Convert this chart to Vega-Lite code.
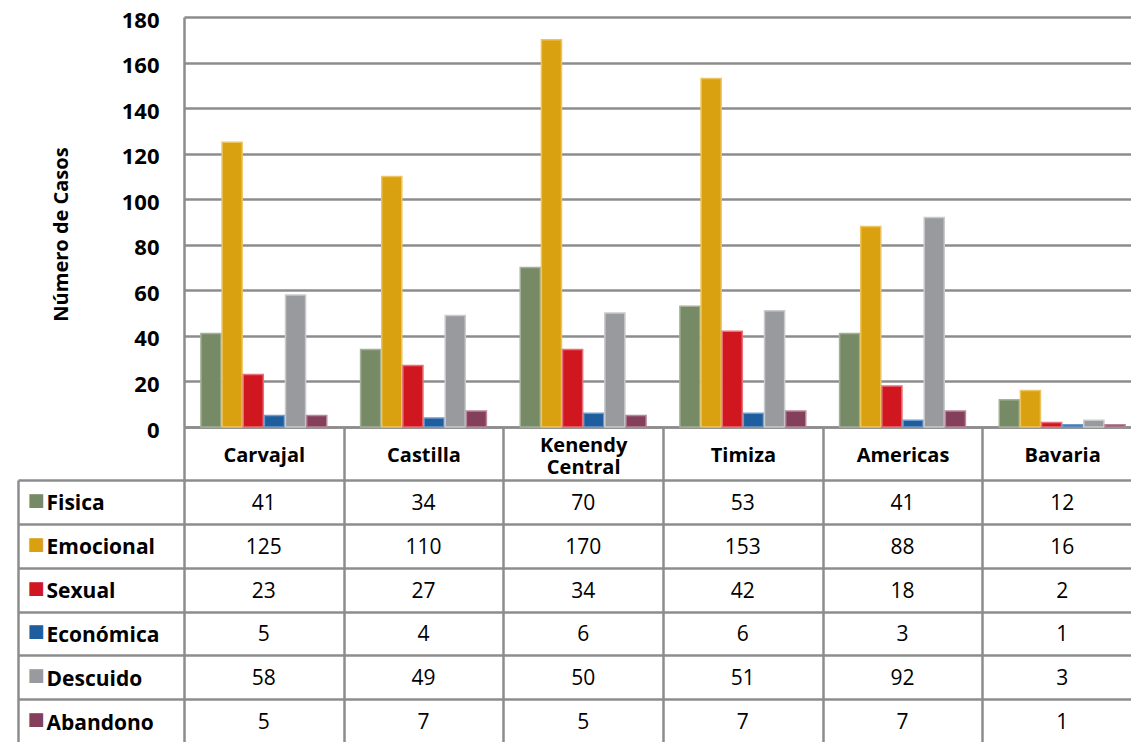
{
  "$schema": "https://vega.github.io/schema/vega-lite/v6.json",
  "padding": {"left": 16, "top": 9, "right": 0, "bottom": 0},
  "background": "white",
  "config": {"view": {"stroke": null}, "font": "Open Sans"},
  "datasets": {
    "casos": [
      {"zona": "Carvajal", "serie": "Fisica", "casos": 41},
      {"zona": "Castilla", "serie": "Fisica", "casos": 34},
      {"zona": "Kenendy Central", "serie": "Fisica", "casos": 70},
      {"zona": "Timiza", "serie": "Fisica", "casos": 53},
      {"zona": "Americas", "serie": "Fisica", "casos": 41},
      {"zona": "Bavaria", "serie": "Fisica", "casos": 12},
      {"zona": "Carvajal", "serie": "Emocional", "casos": 125},
      {"zona": "Castilla", "serie": "Emocional", "casos": 110},
      {"zona": "Kenendy Central", "serie": "Emocional", "casos": 170},
      {"zona": "Timiza", "serie": "Emocional", "casos": 153},
      {"zona": "Americas", "serie": "Emocional", "casos": 88},
      {"zona": "Bavaria", "serie": "Emocional", "casos": 16},
      {"zona": "Carvajal", "serie": "Sexual", "casos": 23},
      {"zona": "Castilla", "serie": "Sexual", "casos": 27},
      {"zona": "Kenendy Central", "serie": "Sexual", "casos": 34},
      {"zona": "Timiza", "serie": "Sexual", "casos": 42},
      {"zona": "Americas", "serie": "Sexual", "casos": 18},
      {"zona": "Bavaria", "serie": "Sexual", "casos": 2},
      {"zona": "Carvajal", "serie": "Económica", "casos": 5},
      {"zona": "Castilla", "serie": "Económica", "casos": 4},
      {"zona": "Kenendy Central", "serie": "Económica", "casos": 6},
      {"zona": "Timiza", "serie": "Económica", "casos": 6},
      {"zona": "Americas", "serie": "Económica", "casos": 3},
      {"zona": "Bavaria", "serie": "Económica", "casos": 1},
      {"zona": "Carvajal", "serie": "Descuido", "casos": 58},
      {"zona": "Castilla", "serie": "Descuido", "casos": 49},
      {"zona": "Kenendy Central", "serie": "Descuido", "casos": 50},
      {"zona": "Timiza", "serie": "Descuido", "casos": 51},
      {"zona": "Americas", "serie": "Descuido", "casos": 92},
      {"zona": "Bavaria", "serie": "Descuido", "casos": 3},
      {"zona": "Carvajal", "serie": "Abandono", "casos": 5},
      {"zona": "Castilla", "serie": "Abandono", "casos": 7},
      {"zona": "Kenendy Central", "serie": "Abandono", "casos": 5},
      {"zona": "Timiza", "serie": "Abandono", "casos": 7},
      {"zona": "Americas", "serie": "Abandono", "casos": 7},
      {"zona": "Bavaria", "serie": "Abandono", "casos": 1}
    ]
  },
  "data": {"name": "casos"},
  "spacing": 53,
  "bounds": "flush",
  "vconcat": [
    {
      "width": 958,
      "height": 410,
      "mark": {"type": "bar", "strokeWidth": 1.5},
      "encoding": {
        "x": {
          "field": "zona", "type": "nominal",
          "sort": ["Carvajal", "Castilla", "Kenendy Central", "Timiza", "Americas", "Bavaria"],
          "scale": {"paddingInner": 0, "paddingOuter": 0},
          "axis": {
            "orient": "bottom", "title": null, "tickBand": "extent",
            "tickSize": 53, "tickColor": "#8c8c8c", "tickWidth": 2.5,
            "domainColor": "#8c8c8c", "domainWidth": 2.5,
            "labelFont": "Open Sans", "labelFontSize": 20, "labelFontWeight": "bold",
            "labelColor": "black", "labelAngle": 0, "labelBaseline": "middle",
            "labelPadding": {"condition": {"test": "datum.value == 'Kenendy Central'", "value": -35}, "value": -25},
            "labelLineHeight": 22,
            "labelExpr": "datum.value == 'Kenendy Central' ? ['Kenendy', 'Central'] : datum.value"
          }
        },
        "xOffset": {
          "field": "serie",
          "sort": ["Fisica", "Emocional", "Sexual", "Económica", "Descuido", "Abandono"],
          "scale": {"paddingInner": 0.05, "paddingOuter": 0.8}
        },
        "y": {
          "field": "casos", "type": "quantitative",
          "scale": {"domain": [0, 180]},
          "axis": {
            "title": "Número de Casos", "titleFont": "Open Sans", "titleFontSize": 20,
            "titleFontWeight": "bold", "titleColor": "black", "titlePadding": 50,
            "titleY": 217,
            "values": [0, 20, 40, 60, 80, 100, 120, 140, 160, 180],
            "labelFont": "Open Sans", "labelFontSize": 22, "labelFontWeight": "bold",
            "labelColor": "black", "labelPadding": 25, "labelOffset": 3,
            "ticks": false, "domainColor": "#8c8c8c", "domainWidth": 2.5,
            "gridColor": "#8c8c8c", "gridWidth": 2.5
          }
        },
        "color": {
          "field": "serie",
          "scale": {
            "domain": ["Fisica", "Emocional", "Sexual", "Económica", "Descuido", "Abandono"],
            "range": ["#778a66", "#d9a00f", "#d0161f", "#1e5d9e", "#999a9e", "#843f5b"]
          },
          "legend": null
        },
        "stroke": {
          "field": "serie",
          "scale": {
            "domain": ["Fisica", "Emocional", "Sexual", "Económica", "Descuido", "Abandono"],
            "range": ["#a4b196", "#ecc560", "#e8707a", "#6f9bcc", "#c9cacd", "#b8849a"]
          },
          "legend": null
        }
      }
    },
    {
      "width": 958,
      "height": 263,
      "layer": [
        {
          "mark": {"type": "text", "font": "Open Sans", "fontSize": 21, "color": "black", "dy": 2},
          "encoding": {
            "x": {
              "field": "zona", "type": "nominal",
              "sort": ["Carvajal", "Castilla", "Kenendy Central", "Timiza", "Americas", "Bavaria"],
              "scale": {"paddingInner": 0, "paddingOuter": 0},
              "axis": {
                "title": null, "labels": false, "ticks": false, "domain": false,
                "grid": true, "tickBand": "extent", "gridColor": "#8c8c8c", "gridWidth": 2.5
              }
            },
            "y": {
              "field": "serie", "type": "nominal",
              "sort": ["Fisica", "Emocional", "Sexual", "Económica", "Descuido", "Abandono"],
              "scale": {"paddingInner": 0, "paddingOuter": 0},
              "axis": {
                "orient": "left", "title": null, "tickBand": "extent",
                "grid": true, "gridColor": "#8c8c8c", "gridWidth": 2.5,
                "ticks": true, "tickSize": 166, "tickColor": "#8c8c8c", "tickWidth": 2.5,
                "domain": false,
                "labelFont": "Open Sans", "labelFontSize": 21, "labelFontWeight": "bold",
                "labelColor": "black", "labelAlign": "left", "labelBaseline": "middle",
                "labelPadding": -28, "labelOffset": 2
              }
            },
            "text": {"field": "casos", "type": "quantitative"}
          }
        },
        {
          "mark": {"type": "text", "opacity": 0},
          "encoding": {
            "y": {
              "field": "serie", "type": "nominal",
              "sort": ["Fisica", "Emocional", "Sexual", "Económica", "Descuido", "Abandono"],
              "scale": {"paddingInner": 0, "paddingOuter": 0},
              "axis": {
                "orient": "left", "offset": 166, "title": null, "grid": false,
                "ticks": false, "domain": true, "domainColor": "#8c8c8c", "domainWidth": 2.5,
                "labelExpr": "'■'", "labelFont": "DejaVu Sans", "labelFontSize": 18,
                "labelAlign": "left", "labelBaseline": "middle", "labelPadding": -9,
                "labelOffset": -1,
                "labelColor": {"expr": "datum.value == 'Fisica' ? '#778a66' : datum.value == 'Emocional' ? '#d9a00f' : datum.value == 'Sexual' ? '#d0161f' : datum.value == 'Económica' ? '#1e5d9e' : datum.value == 'Descuido' ? '#999a9e' : '#843f5b'"}
              }
            },
            "text": {"value": ""}
          }
        }
      ],
      "resolve": {"axis": {"y": "independent"}}
    }
  ]
}
